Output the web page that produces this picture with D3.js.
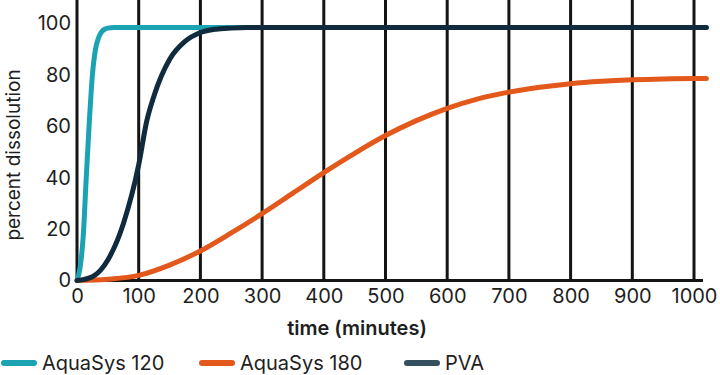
<!DOCTYPE html>
<html>
<head>
<meta charset="utf-8">
<script src="https://cdn.jsdelivr.net/npm/d3@7"></script>
<style>
  html, body { margin: 0; padding: 0; background: #fff; }
  svg { display: block; }
  text { font-family: Inter, "Noto Sans", sans-serif; fill: #1e1e1e; }
</style>
</head>
<body>
<svg id="chart" width="720" height="375"></svg>
<script>
// ---- data ----
const seriesNames = ["AquaSys 120", "AquaSys 180", "PVA"];
const xTicks = [0, 100, 200, 300, 400, 500, 600, 700, 800, 900, 1000];
const yTicks = [0, 20, 40, 60, 80, 100];

const aqua120Time  = [0, 5, 10, 15, 20, 25, 30, 35, 40, 45, 50, 60, 100, 200, 400, 600, 800, 1000, 1020];
const aqua120Value = [0, 5, 17, 40, 62, 80, 90, 94.5, 96.8, 97.8, 98.2, 98.4, 98.4, 98.4, 98.4, 98.4, 98.4, 98.4, 98.4];

const aqua180Time  = [0, 50, 100, 150, 200, 250, 300, 350, 400, 450, 500, 550, 600, 650, 700, 750, 800, 850, 900, 950, 1000, 1020];
const aqua180Value = [0, 0.5, 2, 6, 11.5, 18.5, 26, 34, 42, 49.5, 56.4, 62.2, 67, 70.7, 73.3, 75.2, 76.6, 77.5, 78.1, 78.45, 78.6, 78.6];

const pvaTime  = [0, 25, 50, 75, 100, 113, 125, 150, 175, 200, 225, 250, 275, 300, 400, 600, 800, 1000, 1020];
const pvaValue = [0, 1.5, 8, 22, 45, 62, 72, 86, 93, 96.5, 97.8, 98.2, 98.4, 98.4, 98.4, 98.4, 98.4, 98.4, 98.4];

const colors = { line: ["#1ca3b3", "#e3581b", "#0f2b3d"], legend: ["#1ca3b3", "#e3581b", "#34505f"] };

// ---- layout ----
const svg = d3.select("#chart");
const x = d3.scaleLinear().domain([0, 1000]).range([77, 694]);
const y = d3.scaleLinear().domain([0, 100]).range([280.5, 23.5]);

// vertical grid lines
svg.append("g").selectAll("line").data(xTicks).join("line")
  .attr("x1", d => x(d)).attr("x2", d => x(d))
  .attr("y1", 0).attr("y2", y(0))
  .attr("stroke", "#141414").attr("stroke-width", 3);

// baseline
svg.append("line")
  .attr("x1", x(0) - 1.5).attr("x2", x(1000) + 9)
  .attr("y1", y(0)).attr("y2", y(0))
  .attr("stroke", "#141414").attr("stroke-width", 3);

// axes labels via d3 axes
const xAxis = svg.append("g").attr("transform", `translate(0,${y(0) + 4})`)
  .call(d3.axisBottom(x).tickValues(xTicks).tickFormat(d3.format("d")).tickSize(0).tickPadding(4));
xAxis.select(".domain").remove();
xAxis.selectAll("text").style("font-size", "20px").style("font-family", "Inter, sans-serif").attr("fill", "#1e1e1e");

const yAxis = svg.append("g").attr("transform", `translate(${x(0) - 6},0)`)
  .call(d3.axisLeft(y).tickValues(yTicks).tickSize(0).tickPadding(0));
yAxis.select(".domain").remove();
yAxis.selectAll("text").style("font-size", "20px").style("font-family", "Inter, sans-serif").attr("fill", "#1e1e1e");

// axis titles
svg.append("text").attr("x", 357).attr("y", 335)
  .attr("text-anchor", "middle").style("font-size", "20px").style("font-weight", 600)
  .text("time (minutes)");
svg.append("text").attr("transform", "translate(20,155) rotate(-90)")
  .attr("text-anchor", "middle").style("font-size", "19px").style("font-weight", 400)
  .text("percent dissolution");

// curves
const line = d3.line().x(d => x(d[0])).y(d => y(d[1])).curve(d3.curveMonotoneX);
const series = [
  d3.zip(aqua120Time, aqua120Value),
  d3.zip(aqua180Time, aqua180Value),
  d3.zip(pvaTime, pvaValue)
];
series.forEach((s, i) => {
  svg.append("path").datum(s).attr("d", line)
    .attr("fill", "none").attr("stroke", colors.line[i])
    .attr("stroke-width", 5).attr("stroke-linecap", "round").attr("stroke-linejoin", "round");
});

// legend
const legendX = [4, 202, 407];
const lg = svg.append("g");
seriesNames.forEach((name, i) => {
  lg.append("line").attr("x1", legendX[i]).attr("x2", legendX[i] + 30)
    .attr("y1", 363).attr("y2", 363)
    .attr("stroke", colors.legend[i]).attr("stroke-width", 6).attr("stroke-linecap", "round");
  lg.append("text").attr("x", legendX[i] + 38).attr("y", 370)
    .style("font-size", "20px").text(name);
});
</script>
</body>
</html>
